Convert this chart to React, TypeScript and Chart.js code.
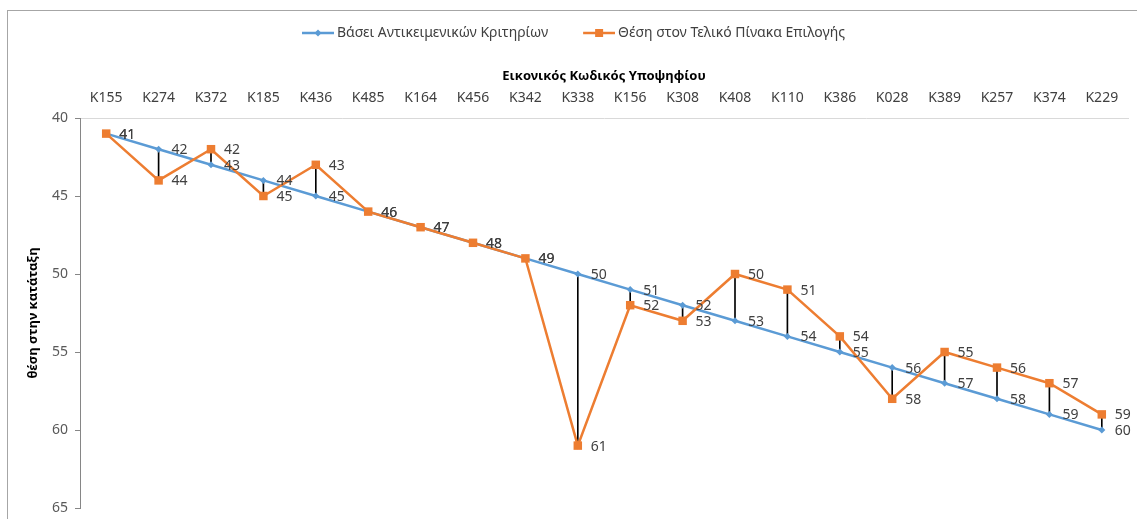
import React, { useEffect, useRef } from 'react';
import { Chart, registerables } from 'chart.js';

Chart.register(...registerables);

const categories = ['K155', 'K274', 'K372', 'K185', 'K436', 'K485', 'K164', 'K456', 'K342', 'K338', 'K156', 'K308', 'K408', 'K110', 'K386', 'K028', 'K389', 'K257', 'K374', 'K229'];
const objectiveRank = [41, 42, 43, 44, 45, 46, 47, 48, 49, 50, 51, 52, 53, 54, 55, 56, 57, 58, 59, 60];
const finalRank = [41, 44, 42, 45, 43, 46, 47, 48, 49, 61, 52, 53, 50, 51, 54, 58, 55, 56, 57, 59];
const seriesNames = ['Βάσει Αντικειμενικών Κριτηρίων', 'Θέση στον Τελικό Πίνακα Επιλογής'];
const yTitle = 'θέση στην κατάταξη';
const xTitle = 'Εικονικός Κωδικός Υποψηφίου';

const FONT = '"Noto Sans", sans-serif';
const BLUE = '#5B9BD5';
const ORANGE = '#ED7D31';

function makeIcon(color: string, kind: 'diamond' | 'square'): HTMLCanvasElement {
  const c = document.createElement('canvas');
  c.width = 55;
  c.height = 12;
  const g = c.getContext('2d')!;
  g.strokeStyle = color;
  g.lineWidth = 2.5;
  g.beginPath();
  g.moveTo(23, 6);
  g.lineTo(55, 6);
  g.stroke();
  g.fillStyle = color;
  const cx = 39;
  if (kind === 'diamond') {
    g.beginPath();
    g.moveTo(cx, 2.5);
    g.lineTo(cx + 3.5, 6);
    g.lineTo(cx, 9.5);
    g.lineTo(cx - 3.5, 6);
    g.closePath();
    g.fill();
  } else {
    g.fillRect(cx - 4, 2, 8, 8);
  }
  return c;
}

const valueLabels = {
  id: 'valueLabels',
  afterDatasetsDraw(chart: any) {
    const ctx = chart.ctx;
    ctx.save();
    ctx.font = `14px ${FONT}`;
    ctx.fillStyle = '#404040';
    ctx.textBaseline = 'middle';
    ctx.textAlign = 'left';
    chart.data.datasets.forEach((ds: any, di: number) => {
      if (ds.type !== 'line') return;
      const meta = chart.getDatasetMeta(di);
      meta.data.forEach((el: any, i: number) => {
        ctx.fillText(String(ds.data[i]), el.x + 13, el.y + 1);
      });
    });
    ctx.restore();
  },
};

export default function App() {
  const ref = useRef<HTMLCanvasElement | null>(null);

  useEffect(() => {
    if (!ref.current) return;
    const blueIcon = makeIcon(BLUE, 'diamond');
    const orangeIcon = makeIcon(ORANGE, 'square');
    const chart = new Chart(ref.current, {
      type: 'line',
      data: {
        labels: categories,
        datasets: [
          {
            type: 'line',
            label: seriesNames[0],
            data: objectiveRank,
            borderColor: BLUE,
            backgroundColor: BLUE,
            borderWidth: 2.5,
            pointStyle: 'rectRot',
            pointRadius: 3.5,
            pointBorderWidth: 0,
            tension: 0,
            order: 1,
          },
          {
            type: 'line',
            label: seriesNames[1],
            data: finalRank,
            borderColor: ORANGE,
            backgroundColor: ORANGE,
            borderWidth: 2.5,
            pointStyle: 'rect',
            pointRadius: 6,
            pointBorderWidth: 0,
            tension: 0,
            order: 0,
          },
          {
            type: 'bar',
            label: 'hilo',
            data: categories.map((_, i) => [objectiveRank[i], finalRank[i]]) as any,
            backgroundColor: '#000000',
            borderWidth: 0,
            barThickness: 1,
            order: 2,
          } as any,
        ],
      },
      options: {
        responsive: false,
        animation: false,
        devicePixelRatio: 1,
        layout: { padding: { top: 10, left: 0, right: 9, bottom: 11 } },
        plugins: {
          tooltip: { enabled: false },
          legend: {
            position: 'top',
            labels: {
              usePointStyle: true,
              pointStyleWidth: 47,
              padding: 16,
              color: '#404040',
              font: { family: FONT, size: 14 },
              generateLabels: () => [
                { text: seriesNames[0], pointStyle: blueIcon, fillStyle: BLUE, strokeStyle: BLUE, lineWidth: 0, datasetIndex: 0, hidden: false, fontColor: '#404040' } as any,
                { text: seriesNames[1], pointStyle: orangeIcon, fillStyle: ORANGE, strokeStyle: ORANGE, lineWidth: 0, datasetIndex: 1, hidden: false, fontColor: '#404040' } as any,
              ],
            },
          },
        },
        scales: {
          x: {
            type: 'category',
            position: 'top',
            offset: true,
            grid: { display: false, drawTicks: false },
            border: { display: true, color: '#d9d9d9', width: 1 },
            ticks: { color: '#404040', font: { family: FONT, size: 14 }, padding: 12, maxRotation: 0, autoSkip: false },
            title: { display: true, text: xTitle, color: '#000000', font: { family: FONT, size: 13, weight: 'bold' }, padding: { top: 18, bottom: 0 } },
            afterFit: (s: any) => { s.height = 68; },
          },
          y: {
            reverse: true,
            min: 40,
            max: 65,
            ticks: { stepSize: 5, color: '#595959', font: { family: FONT, size: 14 }, padding: 7 },
            grid: { drawOnChartArea: false, tickLength: 5, color: '#868686' },
            border: { display: true, color: '#868686', width: 1 },
            title: { display: true, text: yTitle, color: '#000000', font: { family: FONT, size: 13, weight: 'bold' }, padding: { top: 25, bottom: 0 } },
            afterFit: (s: any) => { s.width = 80; s.paddingTop = 0; s.paddingBottom = 0; },
          },
        },
      } as any,
      plugins: [valueLabels],
    });
    return () => chart.destroy();
  }, []);

  return (
    <div style={{ position: 'fixed', left: 0, top: 0, width: 1137, height: 519, background: '#fff', overflow: 'hidden' }}>
      <canvas ref={ref} width={1137} height={519} style={{ position: 'absolute', left: 0, top: 0, width: 1137, height: 519 }} />
      <div style={{ position: 'absolute', left: 7, top: 10, width: 1140, height: 520, border: '1px solid #a6a6a6', pointerEvents: 'none' }} />
    </div>
  );
}
